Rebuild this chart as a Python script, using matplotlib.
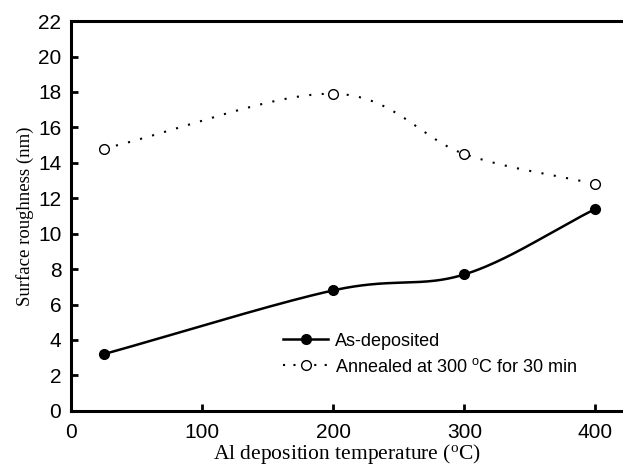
import numpy as np
import matplotlib
matplotlib.use('Agg')
import matplotlib.pyplot as plt

plt.rcParams['mathtext.default'] = 'regular'

temp = [25, 200, 300, 400]
as_dep = [3.2, 6.8, 7.7, 11.4]
annealed = [14.8, 17.9, 14.5, 12.8]


def smooth(x, y, n=60):
    # catmull-rom curve through the points, just for drawing the line
    x = np.asarray(x, float)
    y = np.asarray(y, float)
    px = np.concatenate([[2 * x[0] - x[1]], x, [2 * x[-1] - x[-2]]])
    py = np.concatenate([[2 * y[0] - y[1]], y, [2 * y[-1] - y[-2]]])
    xs, ys = [], []
    t = np.linspace(0, 1, n)
    for i in range(1, len(px) - 2):
        for p, out in ((px, xs), (py, ys)):
            p0, p1, p2, p3 = p[i - 1], p[i], p[i + 1], p[i + 2]
            out.append(0.5 * (2 * p1 + (-p0 + p2) * t
                              + (2 * p0 - 5 * p1 + 4 * p2 - p3) * t ** 2
                              + (-p0 + 3 * p1 - 3 * p2 + p3) * t ** 3))
    return np.concatenate(xs), np.concatenate(ys)


fig = plt.figure(figsize=(6.23, 4.69), dpi=100)
ax = fig.add_axes([0.114, 0.124, 0.886, 0.831])

sx, sy = smooth(temp, as_dep)
ax.plot(sx, sy, color='black', lw=1.8)
ax.plot(temp, as_dep, 'o', color='black', ms=7)
sx, sy = smooth(temp, annealed)
ax.plot(sx, sy, color='black', lw=1.5, ls=(0, (1, 5)))
ax.plot(temp, annealed, 'o', mfc='white', mec='black', ms=7, mew=1.0)

# legend handles
ax.plot([], [], '-o', color='black', lw=1.8, ms=7, label='As-deposited')
ax.plot([], [], 'o', ls=(0, (1, 4)), color='black', mfc='white', ms=7, lw=1.5,
        label='Annealed at 300 $^{o}$C for 30 min')
h, l = ax.get_legend_handles_labels()
ax.legend(h[-2:], l[-2:], frameon=False, loc='lower left',
          bbox_to_anchor=(0.384, 0.09), borderpad=0, borderaxespad=0,
          handlelength=2.5, handletextpad=0.4, labelspacing=0.45,
          prop={'family': 'Liberation Sans', 'size': 13})

ax.set_xlim(0, 421)
ax.set_ylim(0, 22)
ax.set_xticks([0, 100, 200, 300, 400])
ax.set_yticks(range(0, 23, 2))
ax.tick_params(direction='in', length=5, width=2, labelsize=15)
ax.tick_params(axis='y', pad=7)
ax.tick_params(axis='x', pad=9)
for lab in ax.get_xticklabels() + ax.get_yticklabels():
    lab.set_family('Liberation Sans')
for s in ['left', 'bottom', 'top']:
    ax.spines[s].set_linewidth(2.2)
ax.spines['right'].set_visible(False)

ax.set_xlabel('Al deposition temperature ($^{o}$C)', family='Liberation Serif',
              fontsize=15.5, labelpad=0)
ax.set_ylabel('Surface roughness (nm)', family='Liberation Serif',
              fontsize=13.5, labelpad=3)

fig.savefig('out.png', dpi=100)
